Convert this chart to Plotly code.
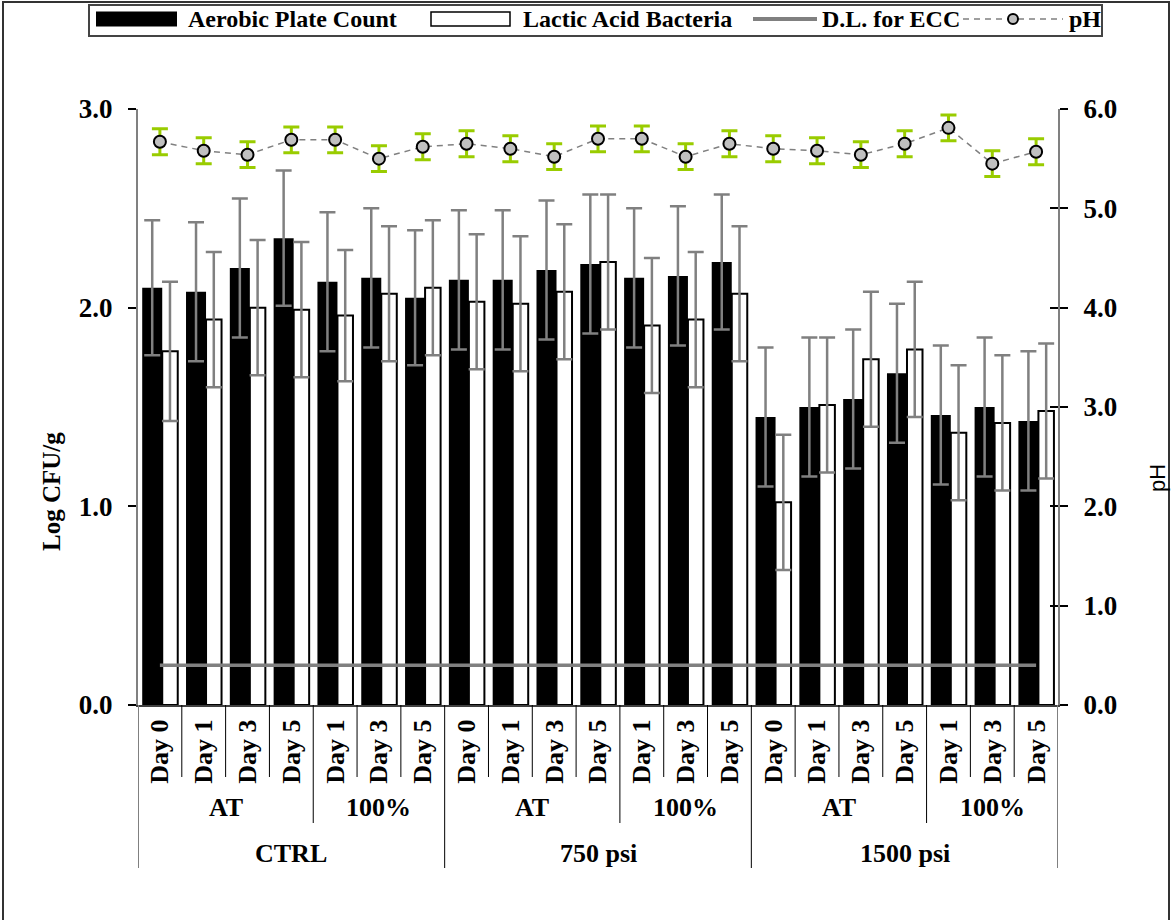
import plotly.graph_objects as go

# ---------------- data ----------------
days = ["Day 0", "Day 1", "Day 3", "Day 5", "Day 1", "Day 3", "Day 5"] * 3
atmosphere = (["AT"] * 4 + ["100%"] * 3) * 3
pressure = ["CTRL"] * 7 + ["750 psi"] * 7 + ["1500 psi"] * 7

apc = [2.10, 2.08, 2.20, 2.35, 2.13, 2.15, 2.05,
       2.14, 2.14, 2.19, 2.22, 2.15, 2.16, 2.23,
       1.45, 1.50, 1.54, 1.67, 1.46, 1.50, 1.43]
apc_err = [0.34, 0.35, 0.35, 0.34, 0.35, 0.35, 0.34,
           0.35, 0.35, 0.35, 0.35, 0.35, 0.35, 0.34,
           0.35, 0.35, 0.35, 0.35, 0.35, 0.35, 0.35]

lab = [1.78, 1.94, 2.00, 1.99, 1.96, 2.07, 2.10,
       2.03, 2.02, 2.08, 2.23, 1.91, 1.94, 2.07,
       1.02, 1.51, 1.74, 1.79, 1.37, 1.42, 1.48]
lab_err = [0.35, 0.34, 0.34, 0.34, 0.33, 0.34, 0.34,
           0.34, 0.34, 0.34, 0.34, 0.34, 0.34, 0.34,
           0.34, 0.34, 0.34, 0.34, 0.34, 0.34, 0.34]

ph = [5.67, 5.58, 5.54, 5.69, 5.69, 5.50, 5.62,
      5.65, 5.60, 5.52, 5.70, 5.70, 5.52, 5.65,
      5.60, 5.58, 5.54, 5.65, 5.81, 5.45, 5.57]
ph_err = [0.13] * 21

dl_ecc = 0.2

legend_names = ["Aerobic Plate Count", "Lactic Acid Bacteria", "D.L. for ECC", "pH"]

# ---------------- geometry helpers ----------------
W, H = 1172, 920
PL, PR, PT, PB = 138, 1058, 109, 705


def xp(px):
    return (px - PL) / (PR - PL)


def yp(py):
    return (PB - py) / (PB - PT)


SERIF = "Liberation Serif"
GREY = "#808080"
pos = list(range(len(days)))

fig = go.Figure()

fig.add_trace(go.Bar(
    x=pos, y=apc, width=0.457, offset=-0.404, name=legend_names[0],
    marker=dict(color="black", line=dict(width=0)),
    error_y=dict(type="data", array=apc_err, color=GREY, thickness=2.5, width=8),
    showlegend=False, hoverinfo="skip"))

fig.add_trace(go.Bar(
    x=pos, y=lab, width=0.354, offset=0.053, name=legend_names[1],
    marker=dict(color="white", line=dict(color="black", width=2)),
    error_y=dict(type="data", array=lab_err, color=GREY, thickness=2.5, width=8),
    showlegend=False, hoverinfo="skip"))

fig.add_trace(go.Scatter(
    x=pos, y=[dl_ecc] * len(pos), mode="lines", name=legend_names[2],
    line=dict(color=GREY, width=3.5), showlegend=False, hoverinfo="skip"))

fig.add_trace(go.Scatter(
    x=pos, y=ph, yaxis="y2", mode="lines+markers", name=legend_names[3],
    line=dict(color=GREY, width=1.5, dash="6px,5px"),
    marker=dict(size=12, color="#c0c0c0", line=dict(color="black", width=2)),
    error_y=dict(type="data", array=ph_err, color="#99cc00", thickness=3, width=8),
    showlegend=False, hoverinfo="skip"))

# invisible trace to carry the crossing inner ticks on the right axis
fig.add_trace(go.Scatter(
    x=[pos[0]], y=[ph[0]], yaxis="y3", mode="markers",
    marker=dict(opacity=0), showlegend=False, hoverinfo="skip"))

shapes = []
annotations = []

# outer frame
shapes.append(dict(type="rect", xref="paper", yref="paper",
                   x0=xp(3), x1=xp(1169), y0=yp(2), y1=yp(940),
                   line=dict(color="#333333", width=2), fillcolor="rgba(0,0,0,0)", layer="below"))

# legend box
shapes.append(dict(type="rect", xref="paper", yref="paper",
                   x0=xp(89), x1=xp(1102), y0=yp(5), y1=yp(36),
                   line=dict(color="#444444", width=2), fillcolor="white"))
ly = 19
shapes.append(dict(type="rect", xref="paper", yref="paper",
                   x0=xp(96), x1=xp(177), y0=yp(ly + 7.5), y1=yp(ly - 7.5),
                   line=dict(width=0), fillcolor="black"))
shapes.append(dict(type="rect", xref="paper", yref="paper",
                   x0=xp(431), x1=xp(510), y0=yp(ly + 7), y1=yp(ly - 7),
                   line=dict(color="black", width=1.5), fillcolor="white"))
shapes.append(dict(type="line", xref="paper", yref="paper",
                   x0=xp(753), x1=xp(817), y0=yp(ly), y1=yp(ly),
                   line=dict(color=GREY, width=4)))
shapes.append(dict(type="line", xref="paper", yref="paper",
                   x0=xp(963), x1=xp(1063), y0=yp(ly), y1=yp(ly),
                   line=dict(color=GREY, width=1.5, dash="6px,5px")))
shapes.append(dict(type="circle", xref="paper", yref="paper",
                   x0=xp(1008), x1=xp(1018), y0=yp(ly + 5), y1=yp(ly - 5),
                   line=dict(color="black", width=2), fillcolor="#c0c0c0"))
for name, xs in zip(legend_names, [186, 521, 820, 1067]):
    annotations.append(dict(text=name, xref="paper", yref="paper", x=xp(xs), y=yp(ly),
                            xanchor="left", yanchor="middle", showarrow=False,
                            font=dict(family=SERIF, size=24, color="black", weight="bold")))

# category separators below the x axis
n = len(pos)
for b in range(n + 1):
    xb = b - 0.5
    if b == 0 or b == n:
        depth, col, wd = 868, GREY, 2
    elif pressure[b] != pressure[b - 1]:
        depth, col, wd = 868, "black", 1
    elif atmosphere[b] != atmosphere[b - 1]:
        depth, col, wd = 823, "black", 1
    else:
        depth, col, wd = 777, "black", 1
    shapes.append(dict(type="line", xref="x", yref="paper", x0=xb, x1=xb,
                       y0=yp(PB), y1=yp(depth), line=dict(color=col, width=wd)))


def runs(labels):
    out = []
    start = 0
    for i in range(1, len(labels) + 1):
        if i == len(labels) or labels[i] != labels[start] or (
                labels is atmosphere and pressure[i] != pressure[start]):
            out.append((labels[start], start, i - 1))
            start = i
    return out


for lbl, a, b in runs(atmosphere):
    annotations.append(dict(text=lbl, xref="x", yref="paper", x=(a + b) / 2, y=yp(807),
                            xanchor="center", yanchor="middle", showarrow=False,
                            font=dict(family=SERIF, size=26, color="black", weight="bold")))
for lbl, a, b in runs(pressure):
    annotations.append(dict(text=lbl, xref="x", yref="paper", x=(a + b) / 2, y=yp(853),
                            xanchor="center", yanchor="middle", showarrow=False,
                            font=dict(family=SERIF, size=26, color="black", weight="bold")))

# axis titles
annotations.append(dict(text="Log CFU/g", xref="paper", yref="paper", x=xp(52), y=yp(492),
                        textangle=-90, showarrow=False, xanchor="center", yanchor="middle",
                        font=dict(family=SERIF, size=25, color="black", weight="bold")))
annotations.append(dict(text="pH", xref="paper", yref="paper", x=xp(1157), y=yp(478),
                        textangle=-90, showarrow=False, xanchor="center", yanchor="middle",
                        font=dict(family="Liberation Sans", size=22, color="black")))

fig.update_layout(
    width=W, height=H,
    margin=dict(l=PL, r=W - PR, t=PT, b=H - PB, pad=0),
    paper_bgcolor="white", plot_bgcolor="white",
    barmode="overlay", showlegend=False,
    shapes=shapes, annotations=annotations,
    xaxis=dict(range=[-0.5, n - 0.5], tickmode="array", tickvals=pos, ticktext=days,
               tickangle=-90, ticks="", showgrid=False, zeroline=False,
               showline=True, linecolor="#404040", linewidth=2, ticklabelstandoff=2,
               tickfont=dict(family=SERIF, size=26, color="black", weight="bold")),
    yaxis=dict(range=[0, 3], tickmode="array", tickvals=[0, 1, 2, 3], tickformat=".1f",
               ticks="outside", ticklen=8, tickwidth=1.5, tickcolor="black",
               showline=True, linecolor=GREY, linewidth=2, showgrid=False, zeroline=False,
               ticklabelstandoff=10,
               tickfont=dict(family=SERIF, size=27, color="black", weight="bold")),
    yaxis2=dict(range=[0, 6], overlaying="y", side="right", tickmode="linear", tick0=0, dtick=1,
                tickformat=".1f", ticks="outside", ticklen=8, tickwidth=1.5, tickcolor="black",
                showline=True, linecolor=GREY, linewidth=2, showgrid=False, zeroline=False,
                ticklabelstandoff=10,
                tickfont=dict(family=SERIF, size=27, color="black", weight="bold")),
    yaxis3=dict(range=[0, 6], overlaying="y", side="right", tickmode="linear", tick0=0, dtick=1,
                ticks="inside", ticklen=8, tickwidth=1.5, tickcolor="black",
                showticklabels=False, showline=False, showgrid=False, zeroline=False),
)

fig.write_html("out.html")
